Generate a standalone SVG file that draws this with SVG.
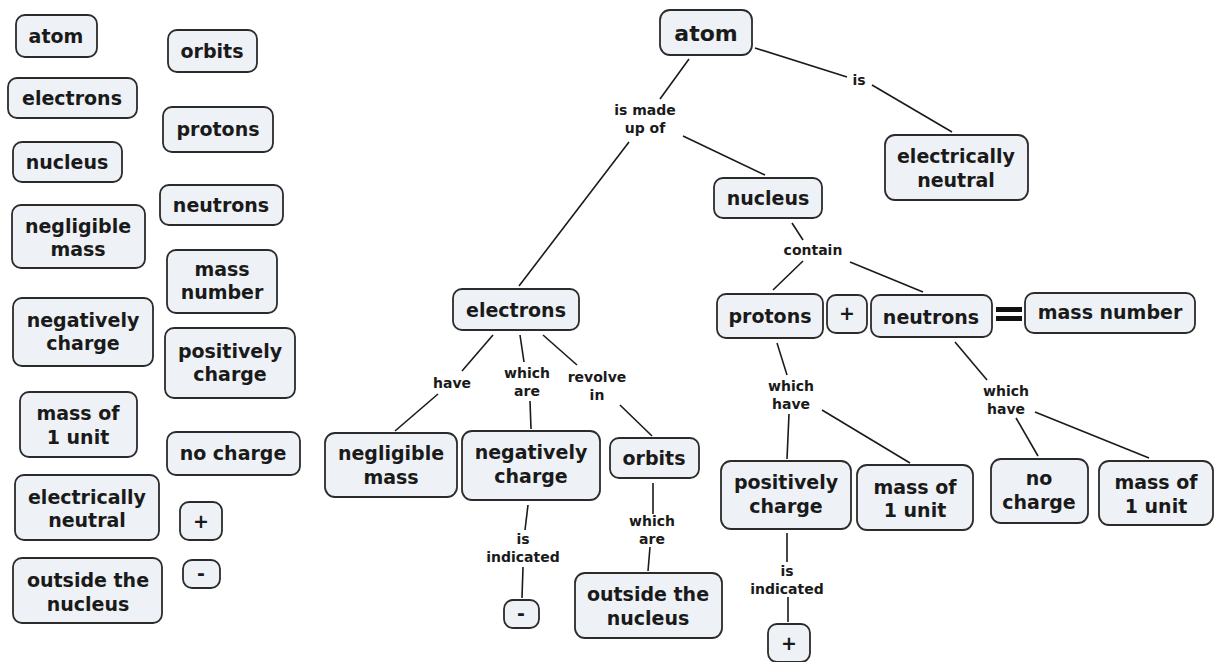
<svg xmlns="http://www.w3.org/2000/svg" width="1227" height="662" viewBox="0 0 1227 662">
<style>
.n rect{fill:#eef1f5;stroke:#2b2b2b;stroke-width:1.8}
.n text{font-family:"DejaVu Sans",Verdana,sans-serif;font-weight:bold;font-size:19px;fill:#1a1a1a;text-anchor:middle;dominant-baseline:central}
.l text{font-family:"DejaVu Sans",Verdana,sans-serif;font-weight:bold;font-size:14px;fill:#1a1a1a;text-anchor:middle;dominant-baseline:central}
#connectors line{stroke:#1a1a1a;stroke-width:1.6;fill:none}
</style>
<rect width="1227" height="662" fill="#ffffff"/>
<!-- word bank -->
<g id="bank-atom" class="n"><rect x="16" y="15" width="81" height="42" rx="9"/><text x="56" y="36">atom</text></g>
<g id="bank-orbits" class="n"><rect x="168" y="30" width="89" height="42" rx="9"/><text x="212" y="51">orbits</text></g>
<g id="bank-electrons" class="n"><rect x="8" y="78" width="129" height="40" rx="9"/><text x="72" y="98">electrons</text></g>
<g id="bank-protons" class="n"><rect x="163" y="107" width="110" height="45" rx="9"/><text x="218" y="129">protons</text></g>
<g id="bank-nucleus" class="n"><rect x="13" y="142" width="109" height="40" rx="9"/><text x="67" y="162">nucleus</text></g>
<g id="bank-neutrons" class="n"><rect x="160" y="185" width="123" height="40" rx="9"/><text x="221" y="205">neutrons</text></g>
<g id="bank-negligible" class="n"><rect x="12" y="205" width="133" height="63" rx="9"/><text x="78" y="226">negligible</text><text x="78" y="249">mass</text></g>
<g id="bank-massnumber" class="n"><rect x="167" y="250" width="110" height="63" rx="9"/><text x="222" y="269">mass</text><text x="222" y="292">number</text></g>
<g id="bank-negatively" class="n"><rect x="13" y="298" width="140" height="68" rx="9"/><text x="83" y="320">negatively</text><text x="83" y="343">charge</text></g>
<g id="bank-positively" class="n"><rect x="165" y="328" width="130" height="70" rx="9"/><text x="230" y="351">positively</text><text x="230" y="374">charge</text></g>
<g id="bank-massof" class="n"><rect x="20" y="392" width="117" height="65" rx="9"/><text x="78" y="413">mass of</text><text x="78" y="437">1 unit</text></g>
<g id="bank-nocharge" class="n"><rect x="167" y="432" width="133" height="43" rx="9"/><text x="233" y="453">no charge</text></g>
<g id="bank-neutral" class="n"><rect x="15" y="475" width="144" height="65" rx="9"/><text x="87" y="497">electrically</text><text x="87" y="520">neutral</text></g>
<g id="bank-plus" class="n"><rect x="180" y="502" width="42" height="38" rx="9"/><text x="201" y="521">+</text></g>
<g id="bank-outside" class="n"><rect x="13" y="558" width="149" height="65" rx="9"/><text x="88" y="580">outside the</text><text x="88" y="604">nucleus</text></g>
<g id="bank-minus" class="n"><rect x="183" y="560" width="37" height="28" rx="9"/><text x="201" y="573">-</text></g>

<!-- connectors -->
<g id="connectors">
<line x1="689" y1="59" x2="660" y2="99"/>
<line x1="629" y1="142" x2="519" y2="286"/>
<line x1="683" y1="136" x2="765" y2="175"/>
<line x1="755" y1="48" x2="847" y2="77"/>
<line x1="872" y1="85" x2="952" y2="132"/>
<line x1="792" y1="223" x2="803" y2="240"/>
<line x1="803" y1="261" x2="773" y2="290"/>
<line x1="850" y1="262" x2="923" y2="292"/>
<line x1="493" y1="335" x2="462" y2="371"/>
<line x1="438" y1="394" x2="395" y2="431"/>
<line x1="520" y1="335" x2="524" y2="362"/>
<line x1="530" y1="401" x2="531" y2="429"/>
<line x1="543" y1="335" x2="577" y2="365"/>
<line x1="620" y1="405" x2="652" y2="436"/>
<line x1="528" y1="505" x2="525" y2="530"/>
<line x1="523" y1="567" x2="522" y2="598"/>
<line x1="653" y1="483" x2="653" y2="514"/>
<line x1="650" y1="547" x2="648" y2="571"/>
<line x1="777" y1="343" x2="787" y2="375"/>
<line x1="789" y1="414" x2="787" y2="459"/>
<line x1="822" y1="410" x2="910" y2="463"/>
<line x1="955" y1="342" x2="987" y2="380"/>
<line x1="1016" y1="418" x2="1038" y2="456"/>
<line x1="1035" y1="412" x2="1149" y2="458"/>
<line x1="787" y1="533" x2="787" y2="562"/>
<line x1="788" y1="597" x2="788" y2="622"/>
</g>

<!-- link labels -->
<g id="lbl-madeup" class="l"><text x="645" y="110">is made</text><text x="645" y="128">up of</text></g>
<g id="lbl-is" class="l"><text x="859" y="80">is</text></g>
<g id="lbl-contain" class="l"><text x="813" y="250">contain</text></g>
<g id="lbl-have" class="l"><text x="452" y="383">have</text></g>
<g id="lbl-whichare1" class="l"><text x="527" y="373">which</text><text x="527" y="391">are</text></g>
<g id="lbl-revolve" class="l"><text x="597" y="377">revolve</text><text x="597" y="395">in</text></g>
<g id="lbl-indicated1" class="l"><text x="523" y="539">is</text><text x="523" y="557">indicated</text></g>
<g id="lbl-whichare2" class="l"><text x="652" y="521">which</text><text x="652" y="539">are</text></g>
<g id="lbl-whichhave1" class="l"><text x="791" y="386">which</text><text x="791" y="404">have</text></g>
<g id="lbl-whichhave2" class="l"><text x="1006" y="391">which</text><text x="1006" y="409">have</text></g>
<g id="lbl-indicated2" class="l"><text x="787" y="571">is</text><text x="787" y="589">indicated</text></g>

<!-- map nodes -->
<g id="atom" class="n"><rect x="660" y="10" width="92" height="45" rx="10"/><text x="706" y="33" style="font-size:22px">atom</text></g>
<g id="neutral" class="n"><rect x="885" y="135" width="143" height="65" rx="10"/><text x="956" y="156">electrically</text><text x="956" y="180">neutral</text></g>
<g id="nucleus" class="n"><rect x="714" y="178" width="108" height="40" rx="9"/><text x="768" y="198">nucleus</text></g>
<g id="electrons" class="n"><rect x="453" y="289" width="126" height="41" rx="9"/><text x="516" y="310">electrons</text></g>
<g id="protons" class="n"><rect x="717" y="294" width="106" height="44" rx="9"/><text x="770" y="316">protons</text></g>
<g id="plus1" class="n"><rect x="827" y="295" width="40" height="38" rx="9"/><text x="847" y="313">+</text></g>
<g id="neutrons" class="n"><rect x="871" y="295" width="121" height="42" rx="9"/><text x="931" y="317">neutrons</text></g>
<g id="equals"><rect x="996" y="307" width="26" height="5" fill="#111"/><rect x="996" y="316" width="26" height="5" fill="#111"/></g>
<g id="massnumber" class="n"><rect x="1025" y="293" width="170" height="40" rx="9"/><text x="1110" y="312">mass number</text></g>
<g id="negligible" class="n"><rect x="325" y="433" width="132" height="64" rx="10"/><text x="391" y="453">negligible</text><text x="391" y="477">mass</text></g>
<g id="negatively" class="n"><rect x="462" y="431" width="138" height="69" rx="10"/><text x="531" y="452">negatively</text><text x="531" y="476">charge</text></g>
<g id="orbits" class="n"><rect x="610" y="438" width="89" height="40" rx="9"/><text x="654" y="458">orbits</text></g>
<g id="positively" class="n"><rect x="721" y="461" width="130" height="68" rx="10"/><text x="786" y="482">positively</text><text x="786" y="506">charge</text></g>
<g id="massof1" class="n"><rect x="857" y="465" width="116" height="65" rx="10"/><text x="915" y="487">mass of</text><text x="915" y="510">1 unit</text></g>
<g id="nocharge" class="n"><rect x="991" y="459" width="97" height="64" rx="10"/><text x="1039" y="478">no</text><text x="1039" y="502">charge</text></g>
<g id="massof2" class="n"><rect x="1099" y="461" width="114" height="64" rx="10"/><text x="1156" y="482">mass of</text><text x="1156" y="506">1 unit</text></g>
<g id="minus" class="n"><rect x="504" y="600" width="35" height="28" rx="9"/><text x="521" y="613">-</text></g>
<g id="outside" class="n"><rect x="575" y="573" width="147" height="65" rx="10"/><text x="648" y="594">outside the</text><text x="648" y="618">nucleus</text></g>
<g id="plus2" class="n"><rect x="768" y="624" width="42" height="38" rx="9"/><text x="789" y="643">+</text></g>
</svg>
